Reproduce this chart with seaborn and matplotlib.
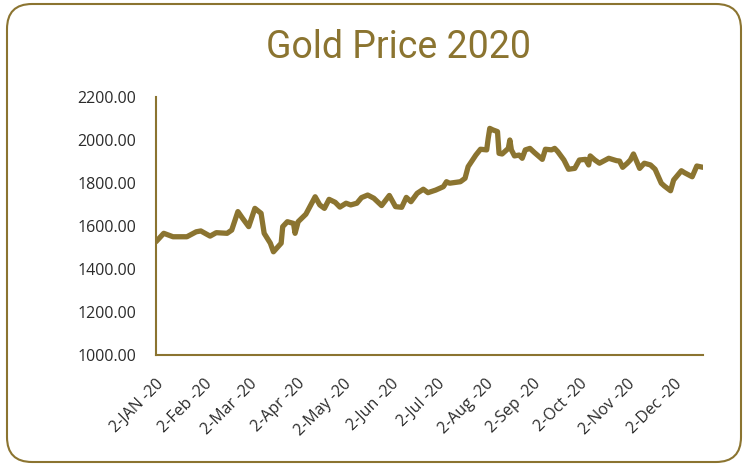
import matplotlib
matplotlib.use('Agg')
import matplotlib.pyplot as plt
from matplotlib.patches import FancyBboxPatch
from matplotlib.transforms import IdentityTransform
import pandas as pd
import seaborn as sns

# gold price
dates = ['2020-01-02', '2020-01-07', '2020-01-13', '2020-01-22', '2020-01-28', '2020-01-31',
         '2020-02-06', '2020-02-10', '2020-02-17', '2020-02-20', '2020-02-24', '2020-02-27',
         '2020-03-02', '2020-03-06', '2020-03-10', '2020-03-12', '2020-03-16', '2020-03-18',
         '2020-03-23', '2020-03-24', '2020-03-27', '2020-03-31', '2020-04-01', '2020-04-03',
         '2020-04-08', '2020-04-10', '2020-04-14', '2020-04-17', '2020-04-20', '2020-04-23',
         '2020-04-27', '2020-04-30', '2020-05-04', '2020-05-07', '2020-05-11', '2020-05-14',
         '2020-05-18', '2020-05-22', '2020-05-27', '2020-06-01', '2020-06-05', '2020-06-09',
         '2020-06-12', '2020-06-15', '2020-06-19', '2020-06-23', '2020-06-26', '2020-07-01',
         '2020-07-06', '2020-07-08', '2020-07-10', '2020-07-17', '2020-07-20', '2020-07-22',
         '2020-07-27', '2020-07-30', '2020-08-03', '2020-08-04', '2020-08-05', '2020-08-07',
         '2020-08-10', '2020-08-11', '2020-08-13', '2020-08-17', '2020-08-18', '2020-08-19',
         '2020-08-21', '2020-08-24', '2020-08-26', '2020-08-28', '2020-08-31', '2020-09-03',
         '2020-09-08', '2020-09-10', '2020-09-14', '2020-09-16', '2020-09-18', '2020-09-22',
         '2020-09-25', '2020-09-29', '2020-10-02', '2020-10-06', '2020-10-08', '2020-10-09',
         '2020-10-12', '2020-10-15', '2020-10-21', '2020-10-26', '2020-10-28', '2020-10-30',
         '2020-11-02', '2020-11-04', '2020-11-06', '2020-11-10', '2020-11-13', '2020-11-17',
         '2020-11-20', '2020-11-24', '2020-11-26', '2020-11-30', '2020-12-02', '2020-12-07',
         '2020-12-09', '2020-12-14', '2020-12-17', '2020-12-21']
prices = [1527, 1566, 1550, 1550, 1573, 1577,
          1553, 1569, 1566, 1581, 1667, 1636,
          1597, 1682, 1659, 1566, 1520, 1480,
          1520, 1597, 1620, 1612, 1566, 1620,
          1655, 1682, 1736, 1698, 1682, 1724,
          1710, 1688, 1706, 1698, 1706, 1732,
          1744, 1729, 1695, 1742, 1690, 1687,
          1733, 1713, 1752, 1771, 1755, 1767,
          1783, 1806, 1799, 1806, 1822, 1876,
          1930, 1957, 1954, 2008, 2054, 2047,
          2039, 1938, 1935, 1961, 2000, 1954,
          1926, 1930, 1915, 1954, 1961, 1941,
          1910, 1957, 1954, 1961, 1946, 1907,
          1864, 1868, 1907, 1910, 1884, 1926,
          1907, 1892, 1915, 1904, 1902, 1873,
          1892, 1907, 1935, 1868, 1892, 1884,
          1864, 1799, 1786, 1764, 1814, 1857,
          1848, 1829, 1879, 1873]

tick_dates = ['2020-01-02', '2020-02-02', '2020-03-02', '2020-04-02', '2020-05-02', '2020-06-02',
              '2020-07-02', '2020-08-02', '2020-09-02', '2020-10-02', '2020-11-02', '2020-12-02']
tick_labels = ['2-JAN -20', '2-Feb -20', '2-Mar -20', '2-Apr -20', '2-May -20', '2-Jun -20',
               '2-Jul -20', '2-Aug -20', '2-Sep -20', '2-Oct -20', '2-Nov -20', '2-Dec -20']
y_ticks = [1000, 1200, 1400, 1600, 1800, 2000, 2200]

gold = '#8b7430'
text_c = '#2b2b2b'

sns.set_style('white')
plt.rcParams['font.family'] = ['Open Sans', 'DejaVu Sans']

df = pd.DataFrame({'date': pd.to_datetime(dates), 'price': prices})

fig = plt.figure(figsize=(7.44, 4.67), dpi=100)
ax = fig.add_axes([156 / 744, 1 - 355 / 467, (703 - 156) / 744, (355 - 97) / 467])

sns.lineplot(data=df, x='date', y='price', ax=ax, color=gold, linewidth=3.8,
             solid_capstyle='round', solid_joinstyle='round')

ax.set_xlim(df['date'].iloc[0], df['date'].iloc[-1])
ax.set_ylim(1000, 2200)
ax.set_yticks(y_ticks)
ax.set_yticklabels([f'{v:.2f}' for v in y_ticks])
ax.set_xticks(pd.to_datetime(tick_dates))
ax.set_xticklabels(tick_labels, rotation=45, ha='right', rotation_mode='anchor')
ax.set_xlabel('')
ax.set_ylabel('')

for s in ['top', 'right']:
    ax.spines[s].set_visible(False)
for s in ['left', 'bottom']:
    ax.spines[s].set_color(gold)
    ax.spines[s].set_linewidth(1.5)
ax.tick_params(axis='both', direction='out', length=5, width=1.5, color=gold,
               labelsize=11.5, labelcolor=text_c)
ax.tick_params(axis='y', pad=9)
ax.tick_params(axis='x', pad=10)

fig.text(398 / 744, 1 - 57.7 / 467, 'Gold Price 2020', ha='center', va='baseline',
         fontsize=27, color=gold, family=['Roboto', 'DejaVu Sans'])

# rounded frame around the chart
frame = FancyBboxPatch((7, 5), 734, 458, boxstyle='round,pad=0,rounding_size=25',
                       transform=IdentityTransform(), facecolor='none',
                       edgecolor=gold, linewidth=1.5)
fig.patches.append(frame)

fig.savefig('out.png', dpi=100)
